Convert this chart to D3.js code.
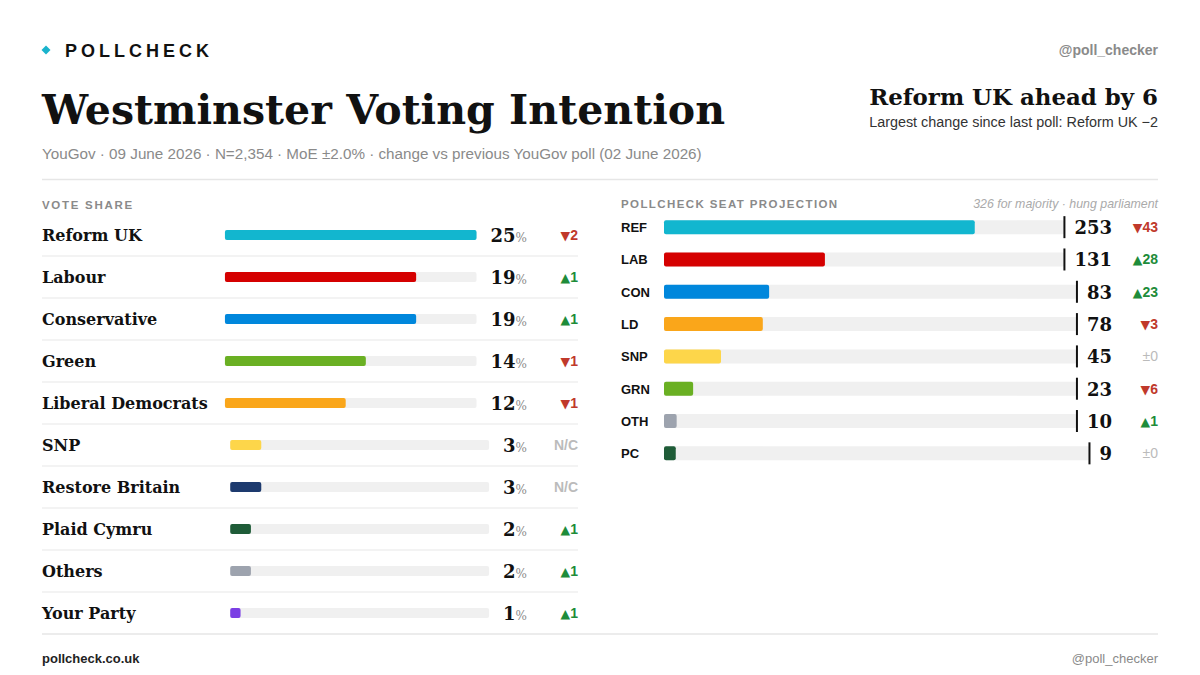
<!DOCTYPE html>
<html>
<head>
<meta charset="utf-8">
<script src="https://cdn.jsdelivr.net/npm/d3@7"></script>
<style>
  body { margin: 0; background: #fff; }
  svg { display: block; }
</style>
</head>
<body>
<div id="chart"></div>
<script>
// --- dados: intenção de voto ---
const parties = ["Reform UK", "Labour", "Conservative", "Green", "Liberal Democrats",
  "SNP", "Restore Britain", "Plaid Cymru", "Others", "Your Party"];
const shares = [25, 19, 19, 14, 12, 3, 3, 2, 2, 1];
const shareChanges = [-2, 1, 1, -1, -1, null, null, 1, 1, 1]; // null = N/C
const partyColours = ["#12b6cf", "#d50000", "#0087dc", "#6ab023", "#faa61a",
  "#fdd64a", "#1d3a6e", "#1f5c38", "#9da3ae", "#7b3fe4"];

// --- dados: projeção de assentos ---
const seatCodes = ["REF", "LAB", "CON", "LD", "SNP", "GRN", "OTH", "PC"];
const seats = [253, 131, 83, 78, 45, 23, 10, 9];
const seatChanges = [-43, 28, 23, -3, 0, -6, 1, 0];
const seatColours = ["#12b6cf", "#d50000", "#0087dc", "#faa61a", "#fdd64a", "#6ab023", "#9da3ae", "#1f5c38"];
const majority = 326;

const W = 1200, H = 675, L = 42, R = 1158;
const SERIF = "'DejaVu Serif', Georgia, serif";
const SANS = "'Liberation Sans', Arial, Helvetica, sans-serif";
const UP = "#1e8c3a", DOWN = "#c0392b", FLAT = "#bbbbbb";

const svg = d3.select("#chart").append("svg")
  .attr("width", W).attr("height", H)
  .style("font-family", SANS);

// ajusta o tamanho da fonte para caber numa largura
function fitWidth(sel, target) {
  const w = sel.node().getComputedTextLength();
  const fs = parseFloat(sel.attr("font-size"));
  sel.attr("font-size", (fs * target / w).toFixed(2));
}

function fmtChange(v) {
  if (v === null) return { a: "", t: "N/C", c: FLAT };
  if (v === 0) return { a: "", t: "±0", c: FLAT };
  return v > 0 ? { a: "▲", t: String(v), c: UP } : { a: "▼", t: String(Math.abs(v)), c: DOWN };
}

function changeText(g, x, y, v) {
  const ch = fmtChange(v);
  const t = g.append("text")
    .attr("x", x).attr("y", y).attr("text-anchor", "end")
    .attr("font-size", 14).attr("fill", ch.c)
    .attr("font-weight", v === 0 ? 400 : 700);
  if (ch.a) {
    t.append("tspan")
      .attr("font-family", "'DejaVu Sans', sans-serif")
      .attr("font-size", 12.5).attr("font-weight", 400)
      .text(ch.a);
  }
  t.append("tspan").text(ch.t);
}

// cabeçalho
svg.append("rect")
  .attr("x", -3.2).attr("y", -3.2).attr("width", 6.4).attr("height", 6.4)
  .attr("transform", "translate(46,50) rotate(45)")
  .attr("fill", "#1ab3cc");
svg.append("text")
  .attr("x", 65).attr("y", 56.5)
  .attr("font-size", 18).attr("font-weight", 700)
  .attr("letter-spacing", 4).attr("fill", "#111")
  .text("POLLCHECK");
svg.append("text")
  .attr("x", R).attr("y", 55).attr("text-anchor", "end")
  .attr("font-size", 14).attr("font-weight", 700).attr("fill", "#8a8a8a")
  .text("@poll_checker");

const title = svg.append("text")
  .attr("x", L).attr("y", 124)
  .attr("font-family", SERIF).attr("font-weight", 700)
  .attr("font-size", 46).attr("fill", "#111")
  .text("Westminster Voting Intention");
fitWidth(title, 683);

const sub = svg.append("text")
  .attr("x", L).attr("y", 159)
  .attr("font-size", 15).attr("fill", "#8a8a8a")
  .text("YouGov · 09 June 2026 · N=2,354 · MoE ±2.0% · change vs previous YouGov poll (02 June 2026)");
fitWidth(sub, 660);

const headline = svg.append("text")
  .attr("x", R).attr("y", 105).attr("text-anchor", "end")
  .attr("font-family", SERIF).attr("font-weight", 700)
  .attr("font-size", 25).attr("fill", "#111")
  .text("Reform UK ahead by 6");
fitWidth(headline, 289);

const sub2 = svg.append("text")
  .attr("x", R).attr("y", 127).attr("text-anchor", "end")
  .attr("font-size", 14).attr("fill", "#333")
  .text("Largest change since last poll: Reform UK \u22122");
fitWidth(sub2, 289);

svg.append("line")
  .attr("x1", L).attr("x2", R).attr("y1", 179.5).attr("y2", 179.5)
  .attr("stroke", "#e6e6e6").attr("stroke-width", 1.5);

// títulos dos painéis
svg.append("text")
  .attr("x", L).attr("y", 209)
  .attr("font-size", 11.5).attr("font-weight", 700)
  .attr("letter-spacing", 1.7).attr("fill", "#8a8a8a")
  .text("VOTE SHARE");
svg.append("text")
  .attr("x", 621).attr("y", 208)
  .attr("font-size", 11.5).attr("font-weight", 700)
  .attr("letter-spacing", 1.4).attr("fill", "#8a8a8a")
  .text("POLLCHECK SEAT PROJECTION");
const maj = svg.append("text")
  .attr("x", R).attr("y", 208).attr("text-anchor", "end")
  .attr("font-size", 11).attr("font-style", "italic").attr("fill", "#aaa")
  .text("326 for majority · hung parliament");
fitWidth(maj, 185);

// --- painel esquerdo: intenção de voto ---
const yL = d3.scaleBand().domain(parties).range([214, 634]);
const xShare = d3.scaleLinear().domain([0, d3.max(shares)]);
const VAL_RIGHT = 527, CHG_RIGHT = 578;

parties.forEach((p, i) => {
  const cy = yL(p) + yL.bandwidth() / 2;
  const g = svg.append("g");

  if (i < parties.length - 1) {
    g.append("line")
      .attr("x1", L).attr("x2", CHG_RIGHT)
      .attr("y1", yL(p) + yL.bandwidth()).attr("y2", yL(p) + yL.bandwidth())
      .attr("stroke", "#efefef").attr("stroke-width", 1.5);
  }

  g.append("text")
    .attr("x", L).attr("y", cy + 6)
    .attr("font-family", SERIF).attr("font-weight", 700)
    .attr("font-size", 16).attr("fill", "#111")
    .text(p);

  const val = g.append("text")
    .attr("x", VAL_RIGHT).attr("y", cy + 7).attr("text-anchor", "end");
  val.append("tspan")
    .attr("font-family", SERIF).attr("font-weight", 700)
    .attr("font-size", 18).attr("fill", "#111")
    .text(shares[i]);
  val.append("tspan")
    .attr("font-family", SERIF).attr("font-size", 12).attr("fill", "#8a8a8a")
    .text("%");

  // trilho encolhe conforme largura do valor
  const free = VAL_RIGHT - val.node().getComputedTextLength() - 14 - L;
  const x0 = L + 0.421 * free, x1 = L + free;
  const x = xShare.copy().range([x0, x1]);

  g.append("rect")
    .attr("x", x0).attr("y", cy - 5)
    .attr("width", x1 - x0).attr("height", 10)
    .attr("rx", 2).attr("fill", "#f0f0f0");
  g.append("rect")
    .attr("x", x0).attr("y", cy - 5)
    .attr("width", x(shares[i]) - x0).attr("height", 10)
    .attr("rx", 2).attr("fill", partyColours[i]);

  changeText(g, CHG_RIGHT, cy + 5, shareChanges[i]);
});

// --- painel direito: projeção de assentos ---
const yR = d3.scaleBand().domain(seatCodes).range([211, 469.5]);
const xSeat = d3.scaleLinear().domain([0, majority]);
const TRACK_X = 664, NUM_RIGHT = 1112;

seatCodes.forEach((c, i) => {
  const cy = yR(c) + yR.bandwidth() / 2;
  const g = svg.append("g");

  g.append("text")
    .attr("x", 621).attr("y", cy + 5)
    .attr("font-size", 13).attr("font-weight", 700).attr("fill", "#111")
    .text(c);

  const num = g.append("text")
    .attr("x", NUM_RIGHT).attr("y", cy + 7).attr("text-anchor", "end")
    .attr("font-family", SERIF).attr("font-weight", 700)
    .attr("font-size", 18).attr("fill", "#111")
    .text(seats[i]);

  const lineX = NUM_RIGHT - num.node().getComputedTextLength() - 10;
  const x = xSeat.copy().range([TRACK_X, lineX]);

  g.append("rect")
    .attr("x", TRACK_X).attr("y", cy - 7)
    .attr("width", lineX - TRACK_X).attr("height", 14)
    .attr("rx", 2).attr("fill", "#f0f0f0");
  g.append("rect")
    .attr("x", TRACK_X).attr("y", cy - 7)
    .attr("width", x(seats[i]) - TRACK_X).attr("height", 14)
    .attr("rx", 2).attr("fill", seatColours[i]);

  // marca da maioria (326)
  g.append("line")
    .attr("x1", x(majority)).attr("x2", x(majority))
    .attr("y1", cy - 11).attr("y2", cy + 11)
    .attr("stroke", "#111").attr("stroke-width", 2);

  changeText(g, R, cy + 5, seatChanges[i]);
});

// rodapé
svg.append("line")
  .attr("x1", L).attr("x2", R).attr("y1", 634).attr("y2", 634)
  .attr("stroke", "#e6e6e6").attr("stroke-width", 1.5);
svg.append("text")
  .attr("x", L).attr("y", 663)
  .attr("font-size", 13).attr("font-weight", 700).attr("fill", "#222")
  .text("pollcheck.co.uk");
svg.append("text")
  .attr("x", R).attr("y", 663).attr("text-anchor", "end")
  .attr("font-size", 13).attr("fill", "#8a8a8a")
  .text("@poll_checker");
</script>
</body>
</html>
